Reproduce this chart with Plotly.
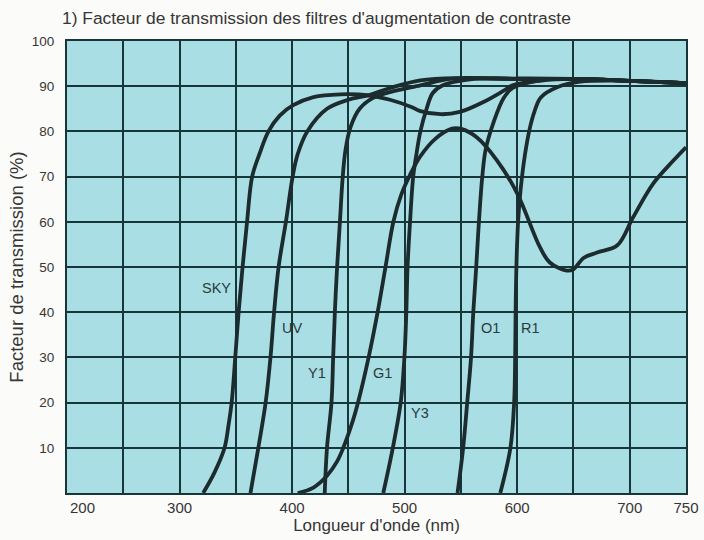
import plotly.graph_objects as go

# Transmission curves (wavelength in nm, transmission in %)
sky_nm = [321, 331, 340, 343.5, 346.3, 349.5, 352.5, 356, 360, 364.5, 371, 379, 389, 401, 419, 443, 467, 487, 506, 514, 532, 549, 570, 588, 596, 620, 650, 700, 750]
sky_t = [0, 4.5, 10, 15, 20, 30, 40, 50, 60, 70, 75, 80, 83.5, 85.8, 87.6, 88.2, 88, 87, 85.4, 84.5, 83.8, 84.3, 86.5, 89, 90.2, 91.2, 91.6, 91.2, 90.7]

uv_nm = [363, 370, 376.5, 380.8, 384, 388, 394.5, 400.5, 405, 413.5, 431, 450, 468, 487, 514, 550, 600, 650, 700, 750]
uv_t = [0, 10, 20, 30, 40, 50, 60, 70, 75, 80, 85, 87, 88, 89.6, 91.3, 91.8, 91.6, 91.6, 91.2, 90.7]

y1_nm = [429, 431, 435, 436.5, 438, 440, 442.5, 445, 447.5, 452, 460, 472, 487, 514, 540, 560, 600, 650, 700, 750]
y1_t = [0, 10, 20, 30, 40, 50, 60, 70, 76, 81, 85, 87.4, 88.7, 90.2, 91.6, 91.8, 91.6, 91.6, 91.2, 90.7]

g1_nm = [405, 419, 431, 440, 445, 454, 459, 468, 476, 483, 490, 497, 505, 514, 527, 542, 551, 564, 582, 600, 620, 629, 644, 650, 659, 671, 689, 703, 721, 739, 750]
g1_t = [0, 1.2, 3.8, 7, 9.7, 16, 20.4, 30, 40, 50, 60, 66, 70.5, 74.5, 78.3, 80.6, 80.5, 78.7, 73.6, 66.3, 54.5, 51, 49.2, 49.5, 52, 53.2, 54.8, 61, 68.5, 73.6, 76.5]

y3_nm = [481, 489.5, 496.5, 499.8, 501.5, 502.6, 504.8, 507.6, 510.5, 514, 519.5, 525, 534, 558, 600, 650, 700, 750]
y3_t = [0, 10, 20, 30, 40, 50, 60, 70, 75, 80, 85, 88.5, 90.2, 91.5, 91.7, 91.6, 91.2, 90.7]

o1_nm = [547, 552, 555.6, 559, 561, 563.6, 566, 569, 572, 579, 588, 596, 620, 650, 700, 750]
o1_t = [0, 10, 20, 30, 40, 50, 60, 70, 76, 82, 87.4, 89.6, 91.3, 91.6, 91.2, 90.7]

r1_nm = [585, 594, 597.3, 598.2, 598.6, 599.3, 600.8, 603, 607, 611.5, 615.5, 621, 636, 656, 700, 750]
r1_t = [0, 10, 20, 30, 40, 50, 60, 67, 75, 81, 84.5, 87.5, 89.8, 91, 91.2, 90.7]

# Curve labels and their positions
label_text = ["SKY", "UV", "Y1", "G1", "Y3", "O1", "R1"]
label_nm = [333, 400, 422, 480, 514, 576, 612]
label_t = [45.4, 36.5, 26.5, 26.5, 17.7, 36.5, 36.5]

x_tick_vals = [300, 400, 500, 600, 700, 750]
y_tick_vals = [10, 20, 30, 40, 50, 60, 70, 80, 90, 100]

curve_color = "#1c2b2d"
grid_color = "#17363a"
text_color = "#363636"
font_family = "Liberation Sans, Arial, sans-serif"

fig = go.Figure()
for xs, ys in [(sky_nm, sky_t), (uv_nm, uv_t), (y1_nm, y1_t), (g1_nm, g1_t),
               (y3_nm, y3_t), (o1_nm, o1_t), (r1_nm, r1_t)]:
    fig.add_trace(go.Scatter(
        x=xs, y=ys, mode="lines",
        line=dict(color=curve_color, width=3.8, shape="spline", smoothing=1.0),
        showlegend=False, hoverinfo="skip", cliponaxis=True,
    ))

for txt, xv, yv in zip(label_text, label_nm, label_t):
    fig.add_annotation(x=xv, y=yv, text=txt, showarrow=False,
                       font=dict(size=14.5, color="#2b3a3c", family=font_family))

# "200" sits just right of the axis corner
fig.add_annotation(x=200, y=0, yref="y", text="200", showarrow=False,
                   xanchor="left", yanchor="top", xshift=1, yshift=-4,
                   font=dict(size=15, color=text_color, family=font_family))

fig.update_xaxes(
    range=[200, 750], tickvals=x_tick_vals, ticks="",
    showgrid=True, gridcolor=grid_color, gridwidth=1.6,
    minor=dict(tick0=200, dtick=50, showgrid=True, gridcolor=grid_color, gridwidth=1.6),
    showline=True, linecolor=grid_color, linewidth=2.2, mirror=True,
    zeroline=False, ticklabelstandoff=0, automargin=False,
    tickfont=dict(size=15, color=text_color, family=font_family),
    title=dict(text="Longueur d'onde (nm)", standoff=1,
               font=dict(size=17, color=text_color, family=font_family)),
)
fig.update_yaxes(
    range=[0, 100], tickvals=y_tick_vals, ticks="",
    showgrid=True, gridcolor=grid_color, gridwidth=1.6,
    showline=True, linecolor=grid_color, linewidth=2.2, mirror=True,
    zeroline=False, ticklabelstandoff=8, automargin=False,
    tickfont=dict(size=13.5, color=text_color, family=font_family),
    title=dict(text="Facteur de transmission (%)", standoff=3,
               font=dict(size=18.5, color=text_color, family=font_family)),
)

fig.update_layout(
    width=704, height=540,
    margin=dict(l=67, r=18, t=41, b=47),
    plot_bgcolor="#a8dee4",
    paper_bgcolor="#fbfbf9",
    title=dict(text="1) Facteur de transmission des filtres d'augmentation de contraste",
               x=62 / 704, xanchor="left", y=1 - 18 / 540, yanchor="middle",
               font=dict(size=17.4, color=text_color, family=font_family)),
)

fig.write_html("out.html")
